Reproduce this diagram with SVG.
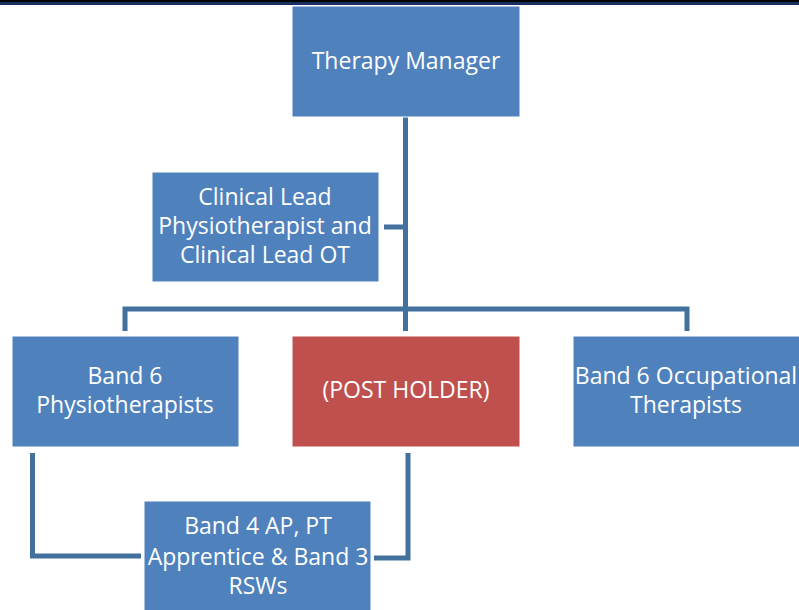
<svg xmlns="http://www.w3.org/2000/svg" width="799" height="610" viewBox="0 0 799 610">
<style>
.box{fill:#4f81bd;stroke:#ffffff;stroke-width:1}
.red{fill:#c0504d;stroke:#ffffff;stroke-width:1}
.t{font-family:"Open Sans","Noto Sans",sans-serif;font-size:23px;fill:#ffffff;text-anchor:middle}
.c{fill:none;stroke:#41719c;stroke-width:5}
</style>
<rect x="0" y="0" width="799" height="610" fill="#ffffff"/>
<rect x="0" y="0" width="799" height="2" fill="#000000"/>
<rect x="0" y="2" width="799" height="3" fill="#17305e"/>
<g id="connectors">
<path class="c" d="M405.5 117 V331"/>
<path class="c" d="M384 227 H405.5"/>
<path class="c" d="M125 331 V309 H687 V331"/>
<path class="c" d="M32.5 453 V556 H141"/>
<path class="c" d="M408 453 V558 H374"/>
</g>
<g id="therapy-manager">
<rect class="box" x="292" y="6" width="228" height="111"/>
<text class="t" x="406" y="69">Therapy Manager</text>
</g>
<g id="clinical-lead">
<rect class="box" x="152" y="172" width="227" height="110"/>
<text class="t" x="265" y="205">Clinical Lead</text>
<text class="t" x="265" y="234">Physiotherapist and</text>
<text class="t" x="265" y="263">Clinical Lead OT</text>
</g>
<g id="band6-physio">
<rect class="box" x="12" y="336" width="227" height="111"/>
<text class="t" x="125" y="384">Band 6</text>
<text class="t" x="125" y="413">Physiotherapists</text>
</g>
<g id="post-holder">
<rect class="red" x="292" y="336" width="228" height="111"/>
<text class="t" x="406" y="398">(POST HOLDER)</text>
</g>
<g id="band6-ot">
<rect class="box" x="573" y="336" width="230" height="111"/>
<text class="t" x="686" y="384">Band 6 Occupational</text>
<text class="t" x="686" y="413">Therapists</text>
</g>
<g id="band4">
<rect class="box" x="144" y="501" width="227" height="115"/>
<text class="t" x="258" y="534">Band 4 AP, PT</text>
<text class="t" x="258" y="565">Apprentice &amp; Band 3</text>
<text class="t" x="258" y="594">RSWs</text>
</g>
</svg>
